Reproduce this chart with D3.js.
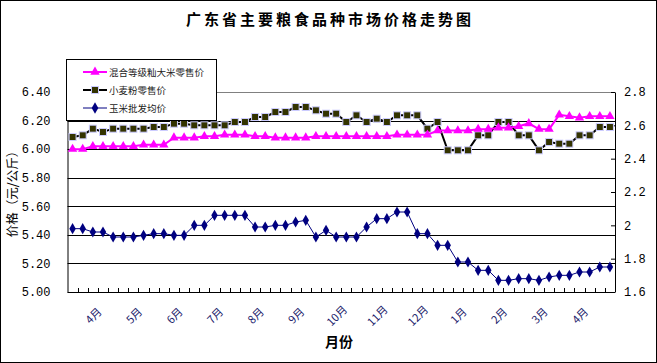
<!DOCTYPE html>
<html>
<head>
<meta charset="utf-8">
<script src="https://cdn.jsdelivr.net/npm/d3@7"></script>
<style>
  body { margin: 0; background: #fff; }
  svg { display: block; }
</style>
</head>
<body>
<div id="chart"></div>
<script>
// weekly prices, 54 weeks
var monthLabels = ['4月', '5月', '6月', '7月', '8月', '9月', '10月', '11月', '12月', '1月', '2月', '3月', '4月']
var labelStart = 2  // first labelled week, then every 4th

var riceRetail = [
  6.00, 6.00, 6.02, 6.02, 6.02, 6.02, 6.02, 6.03, 6.03, 6.03,
  6.08, 6.08, 6.08, 6.09, 6.09, 6.10, 6.10, 6.10, 6.09, 6.09,
  6.08, 6.08, 6.08, 6.08, 6.09, 6.09, 6.09, 6.09,
  6.09, 6.09, 6.09, 6.09, 6.10, 6.10, 6.10, 6.10,
  6.13, 6.13, 6.13, 6.13, 6.14, 6.14, 6.15, 6.15, 6.16, 6.18, 6.14, 6.14,
  6.24, 6.23, 6.22, 6.23, 6.23, 6.23
]
var flourRetail = [
  2.53, 2.54, 2.58, 2.56, 2.58, 2.58, 2.58, 2.58, 2.59, 2.59,
  2.61, 2.61, 2.60, 2.60, 2.60, 2.60, 2.62, 2.62, 2.65, 2.65,
  2.68, 2.68, 2.71, 2.71, 2.69, 2.67, 2.67, 2.62,
  2.66, 2.62, 2.64, 2.62, 2.66, 2.66, 2.66, 2.58,
  2.62, 2.45, 2.45, 2.45, 2.54, 2.54, 2.62, 2.62, 2.54, 2.54,
  2.45, 2.50, 2.49, 2.49, 2.54, 2.54, 2.59, 2.59
]
var cornWholesale = [
  1.98, 1.98, 1.96, 1.96, 1.93, 1.93, 1.93, 1.94, 1.95, 1.95,
  1.94, 1.94, 2.00, 2.00, 2.06, 2.06, 2.06, 2.06, 1.99, 1.99,
  2.00, 2.00, 2.02, 2.03, 1.93, 1.97, 1.93, 1.93,
  1.93, 1.99, 2.04, 2.04, 2.08, 2.08, 1.95, 1.95, 1.88, 1.88,
  1.78, 1.78, 1.73, 1.73, 1.67, 1.67, 1.68, 1.68, 1.67, 1.69,
  1.70, 1.70, 1.72, 1.72, 1.75, 1.75
]
var leftTicks = [5.0, 5.2, 5.4, 5.6, 5.8, 6.0, 6.2, 6.4]
var rightTicks = [1.6, 1.8, 2.0, 2.2, 2.4, 2.6, 2.8]

var W = 657, H = 363
var plot = { left: 67.5, right: 615, top: 92, bottom: 292 }
var cjk = '"Noto Sans CJK SC", "Noto Sans", sans-serif'
var numFont = '"Liberation Mono", "DejaVu Sans Mono", monospace'

var svg = d3.select('#chart').append('svg')
  .attr('width', W)
  .attr('height', H)

// outer frame
svg.append('rect')
  .attr('x', 0.5).attr('y', 0.5)
  .attr('width', W - 1).attr('height', H - 1)
  .attr('fill', '#fff').attr('stroke', '#000')

var x = d3.scaleBand()
  .domain(d3.range(riceRetail.length))
  .range([plot.left, plot.right])
var xc = i => x(i) + x.bandwidth() / 2

var yL = d3.scaleLinear().domain([5.0, 6.4]).range([plot.bottom, plot.top])
var yR = d3.scaleLinear().domain([1.6, 2.8]).range([plot.bottom, plot.top])

// plot area top border (grey)
svg.append('line')
  .attr('x1', plot.left).attr('x2', plot.right)
  .attr('y1', plot.top + 0.5).attr('y2', plot.top + 0.5)
  .attr('stroke', '#808080')

// gridlines off the left axis
svg.selectAll('.grid')
  .data(leftTicks.slice(1, -1))
  .enter()
  .append('line')
  .attr('class', 'grid')
  .attr('x1', plot.left).attr('x2', plot.right)
  .attr('y1', d => Math.round(yL(d)) + 0.5)
  .attr('y2', d => Math.round(yL(d)) + 0.5)
  .attr('stroke', '#000')

// left axis
var leftAxis = svg.append('g')
  .attr('transform', 'translate(' + plot.left + ',0)')
  .call(d3.axisLeft(yL).tickValues(leftTicks).tickSize(0).tickPadding(17).tickFormat(d3.format('.2f')))
leftAxis.select('.domain').attr('stroke', '#000')
leftAxis.selectAll('text')
  .attr('font-family', numFont).attr('font-size', 12).attr('fill', '#000')

// right axis, ticks pointing inward
var rightAxis = svg.append('g')
  .attr('transform', 'translate(' + plot.right + ',0)')
  .call(d3.axisRight(yR).tickValues(rightTicks).tickSizeInner(-4).tickSizeOuter(0).tickPadding(9)
    .tickFormat(d => d3.format('.1f')(d).replace(/\.0$/, '')))
rightAxis.select('.domain').attr('stroke', '#000')
rightAxis.selectAll('line').attr('stroke', '#000')
rightAxis.selectAll('text')
  .attr('font-family', numFont).attr('font-size', 12).attr('fill', '#000')

// bottom axis with inward ticks on week boundaries
svg.append('line')
  .attr('x1', plot.left).attr('x2', plot.right)
  .attr('y1', plot.bottom + 0.5).attr('y2', plot.bottom + 0.5)
  .attr('stroke', '#000')
svg.selectAll('.xtick')
  .data(d3.range(1, riceRetail.length))
  .enter()
  .append('line')
  .attr('class', 'xtick')
  .attr('x1', d => Math.round(x(d)) + 0.5)
  .attr('x2', d => Math.round(x(d)) + 0.5)
  .attr('y1', plot.bottom - 4)
  .attr('y2', plot.bottom)
  .attr('stroke', '#000')

svg.selectAll('.month-label')
  .data(monthLabels)
  .enter()
  .append('text')
  .attr('class', 'month-label')
  .attr('transform', (d, i) => 'translate(' + xc(labelStart + i * 4) + ',' + 315 + ') rotate(-45)')
  .attr('text-anchor', 'middle')
  .attr('dominant-baseline', 'central')
  .attr('font-family', cjk)
  .attr('font-size', 11)
  .attr('fill', '#1a1a6a')
  .text(d => d)

// series
function drawSeries(values, yScale, color, width) {
  svg.append('path')
    .datum(values)
    .attr('fill', 'none')
    .attr('stroke', color)
    .attr('stroke-width', width)
    .attr('d', d3.line().x((d, i) => xc(i)).y(d => yScale(d)))
}

drawSeries(flourRetail, yR, '#000', 2)
svg.selectAll('.flour')
  .data(flourRetail)
  .enter()
  .append('rect')
  .attr('class', 'flour')
  .attr('x', (d, i) => xc(i) - 3.5)
  .attr('y', d => yR(d) - 3.5)
  .attr('width', 7).attr('height', 7)
  .attr('fill', '#333300')
  .attr('stroke', '#ccccff')
  .attr('stroke-width', 1)

drawSeries(riceRetail, yL, '#ff00ff', 2)
svg.selectAll('.rice')
  .data(riceRetail)
  .enter()
  .append('path')
  .attr('class', 'rice')
  .attr('transform', (d, i) => 'translate(' + xc(i) + ',' + yL(d) + ')')
  .attr('d', d3.symbol().type(d3.symbolTriangle).size(38))
  .attr('fill', '#ff00ff')

drawSeries(cornWholesale, yR, '#000080', 1)
svg.selectAll('.corn')
  .data(cornWholesale)
  .enter()
  .append('path')
  .attr('class', 'corn')
  .attr('transform', (d, i) => 'translate(' + xc(i) + ',' + yR(d) + ')')
  .attr('d', d3.symbol().type(d3.symbolDiamond).size(36))
  .attr('fill', '#000080')

// legend
var legendItems = [
  { name: '混合等级籼大米零售价', color: '#ff00ff', w: 2, marker: 'tri' },
  { name: '小麦粉零售价', color: '#000', w: 2, marker: 'sq' },
  { name: '玉米批发均价', color: '#000080', w: 1, marker: 'dia' }
]
var legend = svg.append('g')
legend.append('rect')
  .attr('x', 66.5).attr('y', 59.5)
  .attr('width', 150).attr('height', 61)
  .attr('fill', '#fff').attr('stroke', '#000')

var rows = legend.selectAll('.legend-row')
  .data(legendItems)
  .enter()
  .append('g')
  .attr('class', 'legend-row')
  .attr('transform', (d, i) => 'translate(0,' + (72 + i * 18) + ')')
rows.append('line')
  .attr('x1', 83).attr('x2', 107)
  .attr('stroke', d => d.color)
  .attr('stroke-width', d => d.w)
rows.each(function(d) {
  var g = d3.select(this)
  if (d.marker === 'sq') {
    g.append('rect').attr('x', 91.5).attr('y', -3.5).attr('width', 7).attr('height', 7)
      .attr('fill', '#333300').attr('stroke', '#ccccff')
  } else {
    g.append('path')
      .attr('transform', 'translate(95,0)')
      .attr('d', d3.symbol().type(d.marker === 'tri' ? d3.symbolTriangle : d3.symbolDiamond).size(38))
      .attr('fill', d.color)
  }
})
rows.append('text')
  .attr('x', 109)
  .attr('dominant-baseline', 'central')
  .attr('font-family', cjk)
  .attr('font-size', 9.5)
  .attr('fill', '#222')
  .text(d => d.name)

// titles
svg.append('text')
  .attr('x', 330).attr('y', 18)
  .attr('text-anchor', 'middle')
  .attr('dominant-baseline', 'central')
  .attr('font-family', cjk)
  .attr('font-size', 15)
  .attr('font-weight', 'bold')
  .attr('letter-spacing', 3)
  .text('广东省主要粮食品种市场价格走势图')

svg.append('text')
  .attr('transform', 'translate(11,191) rotate(-90)')
  .attr('text-anchor', 'middle')
  .attr('dominant-baseline', 'central')
  .attr('font-family', cjk)
  .attr('font-size', 12.5)
  .text('价格（元/公斤）')

svg.append('text')
  .attr('x', 339).attr('y', 341)
  .attr('text-anchor', 'middle')
  .attr('dominant-baseline', 'central')
  .attr('font-family', cjk)
  .attr('font-size', 14)
  .attr('font-weight', 'bold')
  .text('月份')
</script>
</body>
</html>
